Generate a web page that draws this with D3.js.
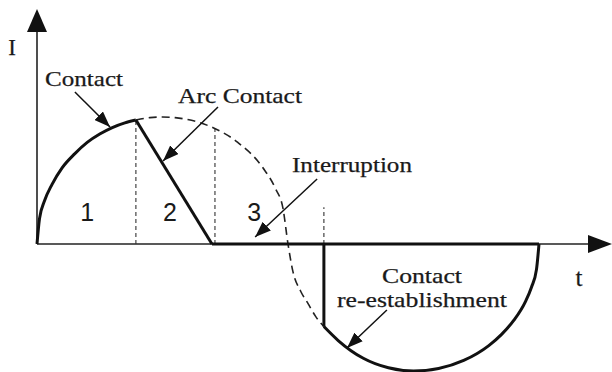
<!DOCTYPE html>
<html>
<head>
<meta charset="utf-8">
<script src="https://cdn.jsdelivr.net/npm/d3@7"></script>
<style>
  body { margin: 0; background: #fff; }
  text.serif { font-family: "Liberation Serif", "Times New Roman", serif; fill: #1a1a1a; stroke: #1a1a1a; stroke-width: 0.25; }
  text.num { font-family: "Liberation Sans", Arial, sans-serif; fill: #1a1a1a; }
</style>
</head>
<body>
<div id="chart"></div>
<script>
// Waveform pieces (t in half-periods, I relative to peak)
const contactCurve = [[0, 0], [0.01, 0.2], [0.03, 0.34], [0.06, 0.47], [0.1, 0.6], [0.15, 0.71],
  [0.2, 0.8], [0.25, 0.866], [0.3, 0.917], [0.35, 0.954], [0.394, 0.976]];
const arcLine = [[0.394, 0.976], [0.697, 0]];
const zeroLine = [[0.697, 0], [2.0, 0]];
const reestLine = [[1.143, 0], [1.143, -0.65]];
const lowerCurve = [[1.143, -0.65], [1.2, -0.76], [1.3, -0.9], [1.4, -0.975], [1.5, -1], [1.6, -0.98],
  [1.7, -0.917], [1.8, -0.8], [1.85, -0.714], [1.9, -0.6], [1.945, -0.457], [1.97, -0.34],
  [1.99, -0.2], [2.0, 0]];
const dashedCurve = [[0.394, 0.976], [0.45, 0.995], [0.5, 1], [0.55, 0.995], [0.6, 0.98], [0.7, 0.917],
  [0.8, 0.8], [0.9, 0.6], [0.95, 0.436], [0.98, 0.28], [1.0, 0], [1.02, -0.22], [1.05, -0.37],
  [1.08, -0.47], [1.11, -0.57], [1.143, -0.65]];
// Dashed stage boundaries: [t, I top]
const boundaries = [[0.394, 0.976], [0.709, 0.908], [1.143, 0.29]];
const stageLabels = ["1", "2", "3"];
const stageT = [0.2, 0.53, 0.865];
const noteText = ["Contact", "Arc Contact", "Interruption", "Contact\nre-establishment"];
// arrow tail and tip per note, [t, I]
const noteTail = [[0.151, 1.197], [0.721, 1.079], [1.116, 0.512], [1.394, -0.52]];
const noteTip = [[0.291, 0.921], [0.502, 0.654], [0.869, 0.055], [1.235, -0.819]];

const width = 612, height = 372;

const svg = d3.select("#chart")
  .append("svg")
  .attr("width", width)
  .attr("height", height);

const x = d3.scaleLinear().domain([0, 2]).range([37, 539]);
const y = d3.scaleLinear().domain([-1, 1]).range([371, 117]);

// arrowhead marker for the notes
svg.append("defs").append("marker")
  .attr("id", "head")
  .attr("viewBox", "0 0 16 12")
  .attr("refX", 16).attr("refY", 6)
  .attr("markerWidth", 16).attr("markerHeight", 12)
  .attr("markerUnits", "userSpaceOnUse")
  .attr("orient", "auto")
  .append("path")
  .attr("d", "M0,0L16,6L0,12Z")
  .attr("fill", "#111");

// axes
const x0 = x(0), y0 = y(0);
svg.append("line")
  .attr("x1", x0).attr("y1", y0).attr("x2", 592).attr("y2", y0)
  .attr("stroke", "#222").attr("stroke-width", 1.6);
svg.append("line")
  .attr("x1", x0).attr("y1", y0).attr("x2", x0).attr("y2", 28)
  .attr("stroke", "#222").attr("stroke-width", 1.6);
svg.append("path")
  .attr("d", `M${x0},9L${x0 + 10},32L${x0 - 10},32Z`)
  .attr("fill", "#111");
svg.append("path")
  .attr("d", `M612,${y0}L588,${y0 - 9}L588,${y0 + 9}Z`)
  .attr("fill", "#111");

svg.append("text").attr("class", "serif")
  .attr("x", 12).attr("y", 55).attr("text-anchor", "middle")
  .attr("font-size", 23).text("I");
svg.append("text").attr("class", "serif")
  .attr("x", 579).attr("y", 286).attr("text-anchor", "middle")
  .attr("font-size", 25).text("t");

// dashed stage boundaries
svg.selectAll("line.bound")
  .data(boundaries)
  .join("line")
  .attr("class", "bound")
  .attr("x1", d => x(d[0])).attr("x2", d => x(d[0]))
  .attr("y1", y0).attr("y2", d => y(d[1]))
  .attr("stroke", "#333").attr("stroke-width", 1.1)
  .attr("stroke-dasharray", "4,3");

const line = d3.line()
  .x(d => x(d[0]))
  .y(d => y(d[1]));
const smooth = d3.line()
  .x(d => x(d[0]))
  .y(d => y(d[1]))
  .curve(d3.curveMonotoneX);

// dashed prospective current
svg.append("path")
  .datum(dashedCurve)
  .attr("d", smooth)
  .attr("fill", "none")
  .attr("stroke", "#222")
  .attr("stroke-width", 1.6)
  .attr("stroke-dasharray", "8,5");

// actual current
for (const part of [arcLine, zeroLine, reestLine]) {
  svg.append("path")
    .datum(part)
    .attr("d", line)
    .attr("fill", "none")
    .attr("stroke", "#111")
    .attr("stroke-width", 3);
}
for (const part of [contactCurve, lowerCurve]) {
  svg.append("path")
    .datum(part)
    .attr("d", smooth)
    .attr("fill", "none")
    .attr("stroke", "#111")
    .attr("stroke-width", 3);
}

// stage numbers
svg.selectAll("text.num")
  .data(stageLabels)
  .join("text")
  .attr("class", "num")
  .attr("x", (d, i) => x(stageT[i]))
  .attr("y", 221)
  .attr("text-anchor", "middle")
  .attr("font-size", 25)
  .text(d => d);

// notes
const notePos = [[84, 86, 78], [240, 103, 124], [352, 172, 120], [422, 283, 80]];
noteText.forEach((t, i) => {
  const lines = t.split("\n");
  const [cx, by, w] = notePos[i];
  const fs = lines[1] ? 21 : 22;
  svg.append("text").attr("class", "serif")
    .attr("x", cx).attr("y", by).attr("text-anchor", "middle")
    .attr("font-size", fs)
    .attr("textLength", w).attr("lengthAdjust", "spacingAndGlyphs")
    .text(lines[0]);
  if (lines[1]) {
    svg.append("text").attr("class", "serif")
      .attr("x", cx).attr("y", by + 24).attr("text-anchor", "middle")
      .attr("font-size", fs)
      .attr("textLength", 170).attr("lengthAdjust", "spacingAndGlyphs")
      .text(lines[1]);
  }
  svg.append("line")
    .attr("x1", x(noteTail[i][0])).attr("y1", y(noteTail[i][1]))
    .attr("x2", x(noteTip[i][0])).attr("y2", y(noteTip[i][1]))
    .attr("stroke", "#111").attr("stroke-width", 1.5)
    .attr("marker-end", "url(#head)");
});
</script>
</body>
</html>
